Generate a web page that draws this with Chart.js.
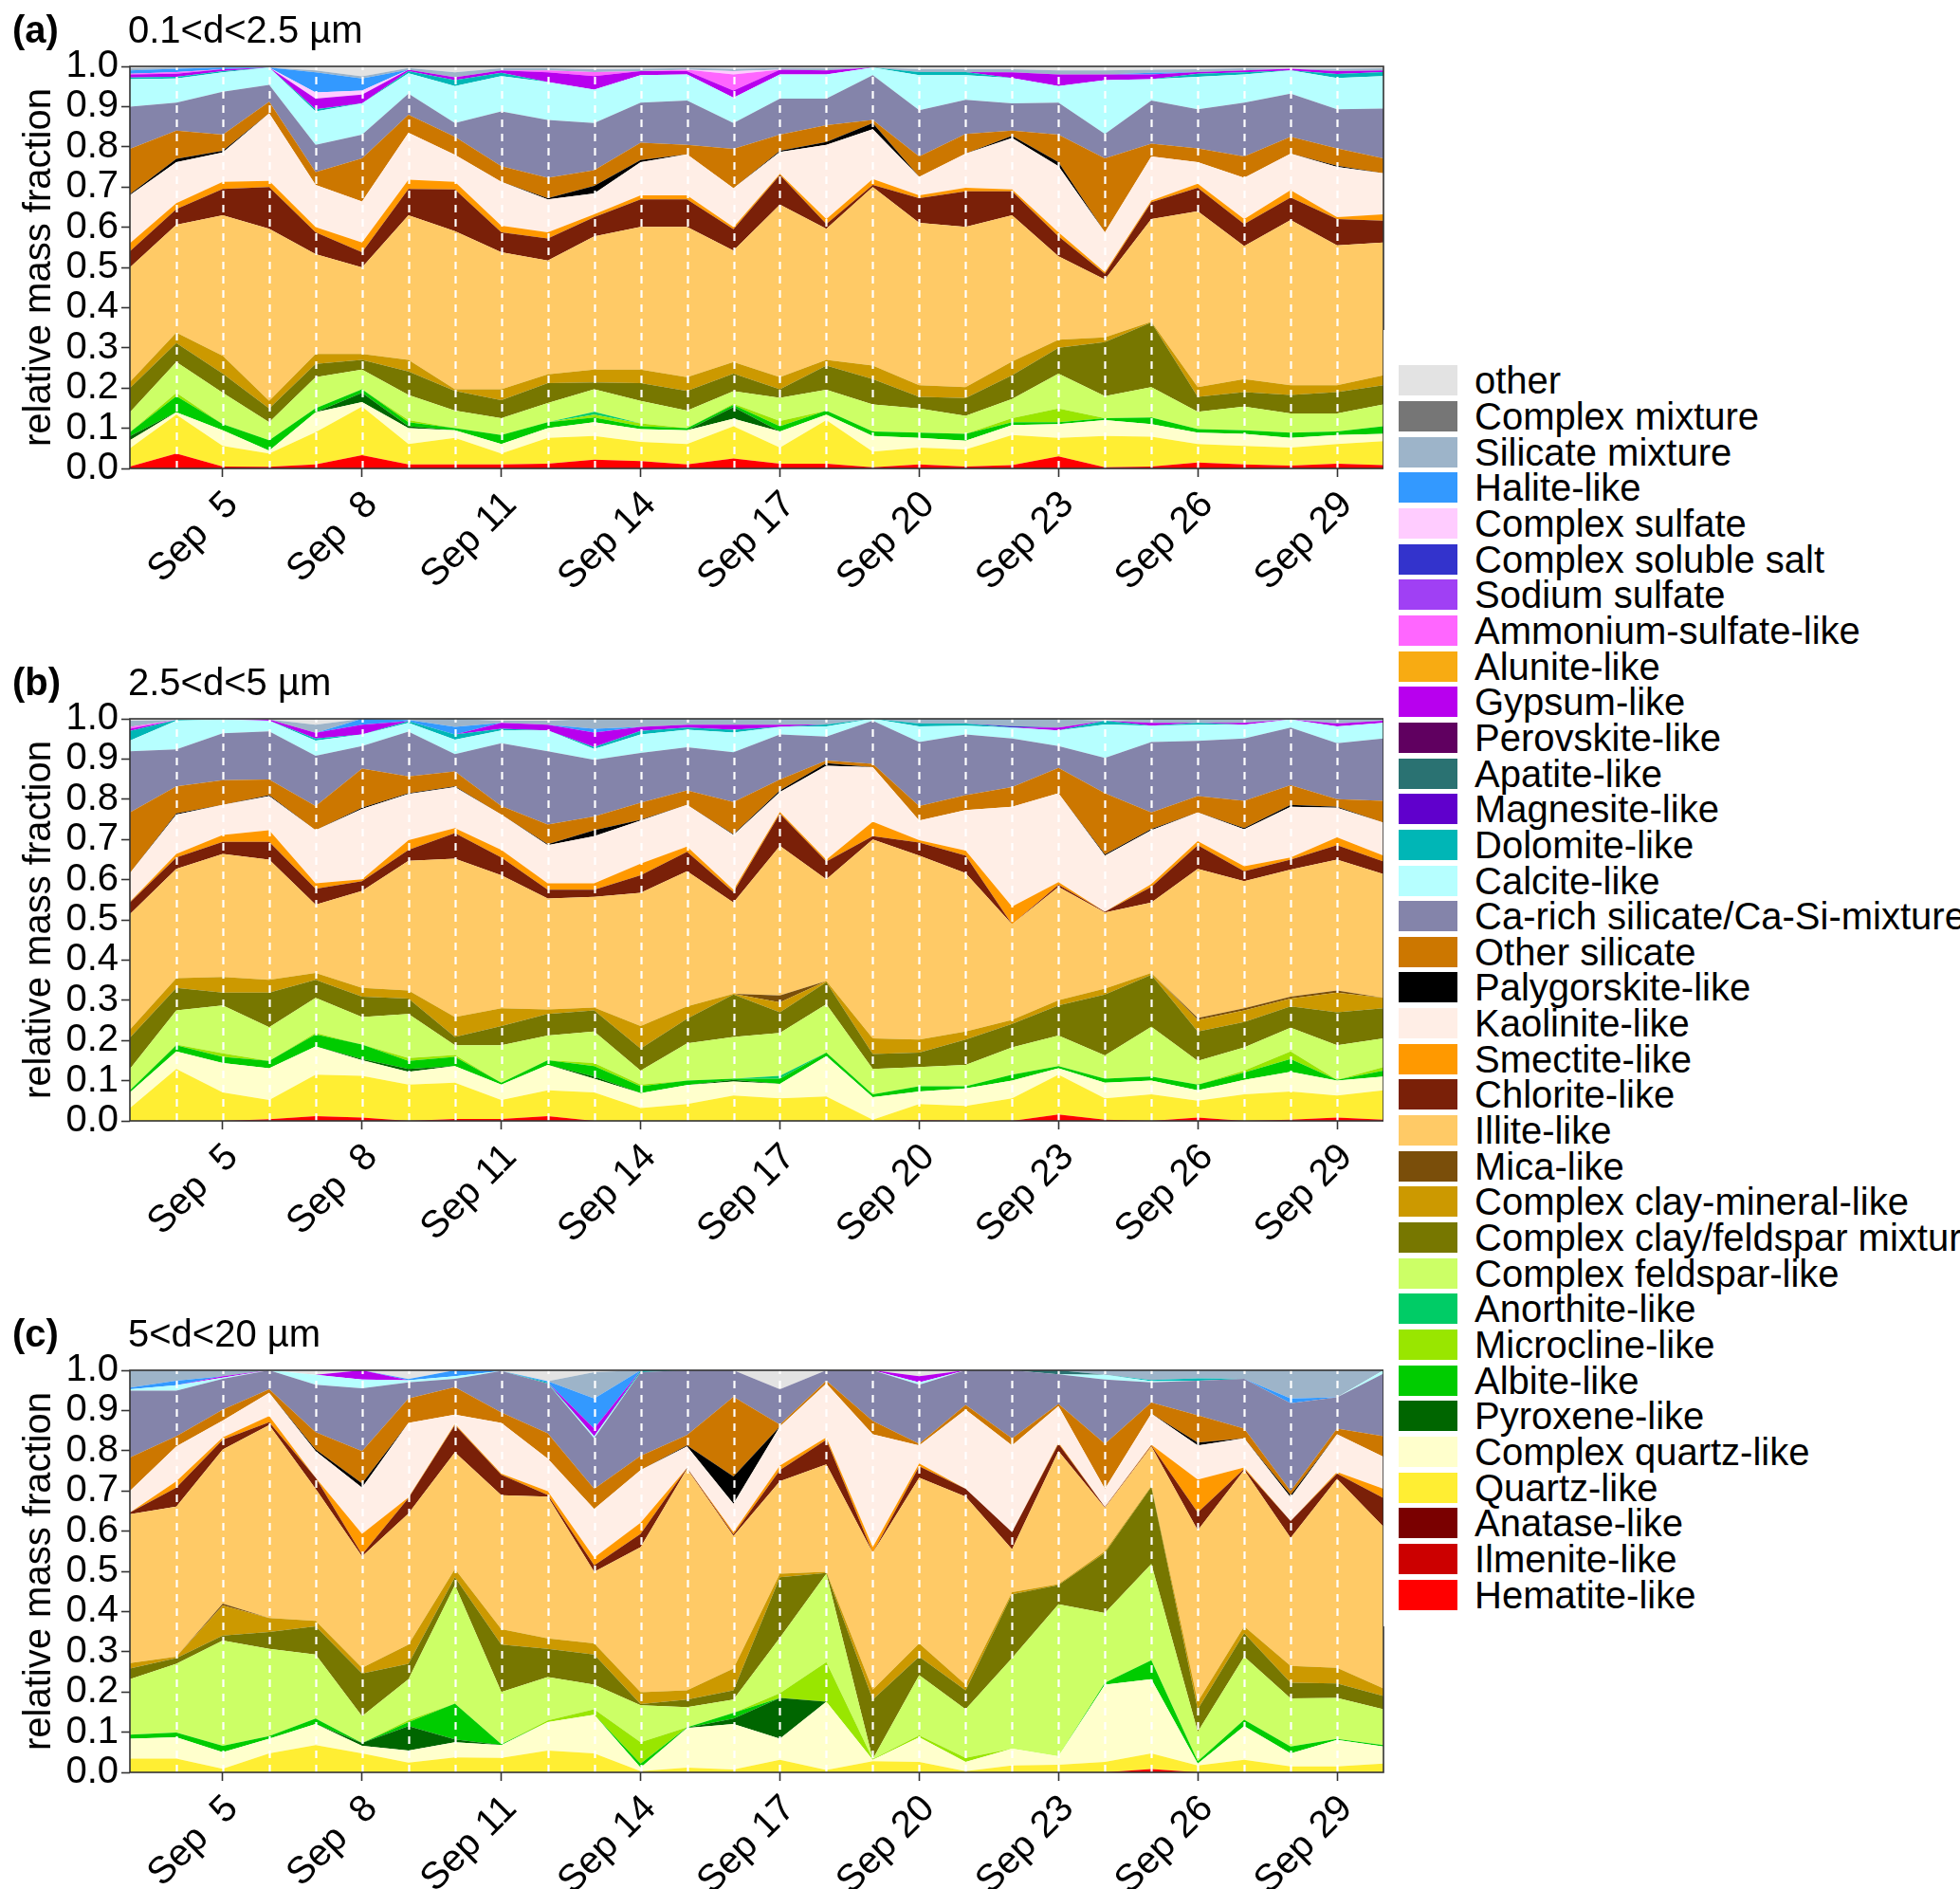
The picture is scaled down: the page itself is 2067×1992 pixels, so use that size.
<!DOCTYPE html>
<html>
<head>
<meta charset="utf-8">
<script src="https://cdn.jsdelivr.net/npm/chart.js@4.4.1/dist/chart.umd.min.js"></script>
<style>
  html, body { margin: 0; padding: 0; background: #fff; width: 2067px; height: 1992px; overflow: hidden; }
  body { position: relative; font-family: 'Liberation Sans', Arial, sans-serif; color: #000; }
  canvas { position: absolute; left: 0; }
  .tag { position: absolute; font-size: 40px; line-height: 40px; white-space: nowrap; }
  .tag b { font-weight: bold; }
  #legend { position: absolute; left: 1459px; top: 348px; width: 608px; height: 1367px; background: #fff; overflow: hidden; }
  .row { position: absolute; left: 0; height: 38px; width: 608px; }
  .key { position: absolute; left: 16px; top: 3px; width: 62px; height: 32px; }
  .lab { position: absolute; left: 96px; top: 0; font-size: 40px; line-height: 38px; white-space: nowrap; }
</style>
</head>
<body>
<canvas id="chartA" width="1467" height="594" style="top:40px"></canvas>
<canvas id="chartB" width="1467" height="594" style="top:728px"></canvas>
<canvas id="chartC" width="1467" height="594" style="top:1415px"></canvas>
<div class="tag" style="left:13px;top:11px"><b>(a)</b></div>
<div class="tag" style="left:135px;top:11px">0.1&lt;d&lt;2.5 µm</div>
<div class="tag" style="left:13px;top:699px"><b>(b)</b></div>
<div class="tag" style="left:135px;top:699px">2.5&lt;d&lt;5 µm</div>
<div class="tag" style="left:13px;top:1386px"><b>(c)</b></div>
<div class="tag" style="left:135px;top:1386px">5&lt;d&lt;20 µm</div>
<div id="legend"></div>
<script>
// days of September, one sample per day
const days = [3,4,5,6,7,8,9,10,11,12,13,14,15,16,17,18,19,20,21,22,23,24,25,26,27,28,29,30];
const tickDays = [5,8,11,14,17,20,23,26,29];
const tickLabels = ['Sep  5','Sep  8','Sep 11','Sep 14','Sep 17','Sep 20','Sep 23','Sep 26','Sep 29'];

// legend order (top to bottom)
const names = ['other','Complex mixture','Silicate mixture','Halite-like','Complex sulfate','Complex soluble salt',
  'Sodium sulfate','Ammonium-sulfate-like','Alunite-like','Gypsum-like','Perovskite-like','Apatite-like',
  'Magnesite-like','Dolomite-like','Calcite-like','Ca-rich silicate/Ca-Si-mixture','Other silicate',
  'Palygorskite-like','Kaolinite-like','Smectite-like','Chlorite-like','Illite-like','Mica-like',
  'Complex clay-mineral-like','Complex clay/feldspar mixture','Complex feldspar-like','Anorthite-like',
  'Microcline-like','Albite-like','Pyroxene-like','Complex quartz-like','Quartz-like','Anatase-like',
  'Ilmenite-like','Hematite-like'];
const colors = ['#e3e3e3','#767676','#9db4c9','#3399ff','#ffccff','#3333cc',
  '#a040f4','#ff66ff','#f8ab12','#b800ee','#600060','#2a7272',
  '#6000cc','#00b6b6','#b6ffff','#8484aa','#cc7700',
  '#000000','#ffeee6','#ff9900','#7a2008','#ffca66','#7a4e0a',
  '#cc9900','#777700','#ccff66','#00cc66',
  '#99e600','#00cc00','#006600','#ffffcc','#ffee33','#7a0000',
  '#cc0000','#ff0000'];

// ---- panel (a) 0.1<d<2.5 um ----
const hemA = [.005,.037,.005,.004,.01,.033,.01,.01,.01,.012,.022,.018,.01,.025,.012,.012,.003,.01,.005,.008,.03,.003,.005,.015,.01,.007,.012,.008];
const qtzA = [.045,.097,.051,.033,.08,.121,.051,.066,.027,.064,.059,.048,.051,.08,.04,.108,.039,.042,.042,.075,.046,.078,.074,.046,.046,.045,.049,.06];
const cqzA = [.02,.006,.039,.007,.05,.011,.039,.019,.024,.024,.034,.032,.034,.019,.04,.014,.039,.024,.022,.025,.034,.039,.031,.028,.03,.024,.022,.018];
const pyrA = [.01,0,0,0,0,.023,.005,0,0,0,0,0,0,.029,0,0,0,0,0,0,0,0,0,0,0,0,0,0];
const albA = [.01,.04,.015,.026,.01,.009,.01,.005,.022,.015,.012,.007,.005,.005,.013,.01,.011,.013,.017,.007,.005,.005,.017,.009,.009,.013,.009,.019];
const micA = [0,.008,0,0,0,0,.005,0,0,0,.007,.007,0,.003,.013,0,0,0,0,.01,.034,0,0,0,0,0,0,0];
const anoA = [0,0,0,0,0,0,0,0,0,0,.007,0,0,0,0,0,0,0,0,0,0,0,0,0,0,0,0,0];
const cfA  = [.05,.077,.078,.045,.077,.049,.063,.044,.042,.048,.056,.056,.044,.031,.058,.052,.067,.06,.045,.048,.087,.055,.075,.043,.059,.048,.045,.054];
const olA  = [.06,.047,.048,.034,.033,.024,.058,.049,.045,.049,.017,.044,.049,.044,.021,.06,.063,.029,.044,.059,.064,.134,.161,.037,.036,.046,.053,.048];
const goA  = [.015,.026,.044,.019,.025,.015,.029,.004,.027,.022,.032,.034,.034,.029,.03,.014,.034,.029,.027,.034,.02,.012,.002,.024,.032,.024,.017,.025];
const ilA  = [.285,.268,.35,.428,.248,.215,.36,.393,.341,.283,.331,.355,.374,.277,.429,.326,.444,.404,.399,.364,.208,.144,.255,.438,.331,.411,.348,.33];
const chA  = [.04,.039,.065,.104,.054,.038,.065,.104,.049,.055,.048,.068,.068,.053,.074,.012,.005,.061,.088,.059,.049,.014,.042,.058,.055,.056,.065,.054];
const smA  = [.02,.015,.018,.015,.013,.024,.023,.019,.017,.015,.007,.01,.01,.005,.003,.012,.015,.007,.009,.005,.01,.004,.004,.01,.012,.018,.005,.016];
const kaA  = [.12,.102,.073,.168,.105,.102,.117,.067,.109,.082,.052,.083,.102,.097,.054,.185,.124,.046,.085,.128,.165,.099,.11,.054,.103,.091,.125,.102];
const paA  = [.002,.008,.004,0,0,0,0,0,0,.003,.019,.005,0,0,.003,.007,.015,0,0,.005,.01,0,0,0,0,0,.003,0];
const osA  = [.113,.07,.04,.029,.032,.107,.045,.045,.039,.051,.039,.043,.024,.098,.04,.042,.008,.051,.049,.013,.068,.184,.032,.034,.053,.042,.043,.037];
const caA  = [.105,.07,.107,.042,.068,.059,.052,.034,.136,.144,.117,.10,.11,.064,.09,.066,.111,.115,.085,.068,.08,.061,.107,.097,.134,.107,.097,.124];
const ccA  = [.068,.06,.048,.043,.083,.078,.051,.092,.088,.094,.083,.068,.065,.063,.06,.06,.019,.087,.061,.063,.041,.134,.053,.081,.07,.058,.078,.081];
const dolA = [.004,.004,.003,0,.005,0,.005,.015,.008,0,0,0,0,0,0,0,0,.008,.008,0,0,0,0,.008,.005,0,.01,.01];
const gypA = [.008,.008,.005,0,.027,.022,.004,.007,.006,.024,.034,.01,.008,.018,.012,.01,0,0,0,.014,.029,.014,.012,.004,.005,.004,.007,.004];
const ammA = [.002,.004,0,0,0,0,0,0,0,.005,.01,0,.004,.04,0,0,0,0,0,0,0,0,0,0,0,0,0,0];
const csuA = [0,0,0,0,.015,.01,0,0,0,0,0,0,0,.008,0,0,0,0,0,0,0,0,0,0,0,0,0,0];
const halA = [.008,.008,.004,0,.05,.03,0,0,0,0,0,0,0,0,0,0,0,0,0,0,0,0,.004,0,0,0,0,0];
const smxA = [.005,.003,0,0,.005,.005,.004,.012,.005,.005,.007,.006,.004,.006,.004,.005,0,.007,.007,.008,.01,.01,.008,.007,.005,0,.006,.005];
const othA = [.005,.003,.003,.003,.01,.025,.004,.015,.005,.005,.007,.006,.004,.006,.004,.005,.003,.007,.007,.007,.01,.01,.008,.007,.005,.006,.006,.005];

// ---- panel (b) 2.5<d<5 um ----
const hemB = [0,0,0,.004,.012,.008,0,.005,.005,.012,0,0,0,0,0,0,0,.002,0,0,.016,.003,0,.008,0,.003,.008,.003];
const qtzB = [.032,.129,.071,.048,.103,.104,.09,.09,.047,.064,.071,.032,.042,.063,.056,.061,.003,.04,.037,.056,.099,.053,.066,.042,.066,.07,.055,.073];
const cqzB = [.039,.044,.073,.079,.07,.039,.032,.041,.038,.063,.034,.037,.047,.035,.036,.10,.056,.031,.044,.044,.016,.039,.034,.026,.036,.049,.037,.034];
const pyrB = [0,0,0,0,0,.003,.007,0,0,0,.005,0,0,.004,0,0,0,0,0,0,0,0,0,0,0,0,0,0];
const albB = [.005,.015,.015,.018,.03,.036,.02,.023,.005,.012,.026,.017,.011,.003,.013,.009,.007,.013,.005,.015,.005,.01,.01,.014,.018,.032,.002,.015];
const micB = [0,.002,.009,0,.004,0,.007,.005,0,0,.008,.004,0,0,0,0,0,0,0,0,0,0,0,0,.005,.019,0,.009];
const anoB = [0,0,0,0,0,0,0,0,0,0,0,0,0,0,.007,0,0,0,0,0,0,0,0,0,0,0,0,0];
const cfB  = [.053,.085,.119,.084,.087,.068,.11,.024,.093,.061,.078,.035,.093,.104,.107,.12,.063,.048,.053,.068,.076,.058,.124,.059,.058,.059,.086,.071];
const olB  = [.078,.056,.032,.086,.045,.051,.038,.021,.048,.054,.053,.055,.061,.105,.051,.055,.037,.036,.063,.058,.075,.151,.129,.073,.063,.053,.082,.075];
const goB  = [.02,.024,.039,.032,.017,.022,.02,.049,.044,.011,.007,.056,.031,.002,.025,.003,.039,.032,.02,.01,.013,.015,.005,.029,.029,.019,.049,.026];
const micaB = [0,0,0,0,0,0,0,0,0,0,0,0,0,0,.017,0,0,0,0,0,0,0,0,.005,.005,.005,.005,0];
const ilB  = [.287,.272,.306,.299,.17,.241,.323,.394,.331,.276,.275,.331,.336,.227,.372,.253,.495,.458,.394,.238,.282,.189,.175,.371,.316,.316,.326,.308];
const chB  = [.029,.028,.03,.044,.039,.024,.027,.064,.044,.022,.018,.044,.048,.026,.08,.044,.008,.032,.044,0,.005,.002,.039,.059,.025,.025,.036,.031];
const smB  = [.002,.009,.017,.029,.014,.005,.024,.012,.019,.016,.016,.029,.013,.006,.004,.005,.036,.006,.012,.044,.007,0,.007,.01,.012,.005,.019,.015];
const kaB  = [.071,.098,.075,.085,.132,.175,.115,.102,.088,.095,.117,.107,.104,.136,.05,.233,.136,.049,.101,.248,.221,.14,.134,.071,.092,.126,.074,.082];
const paB  = [0,.003,0,.002,0,.003,.002,.002,0,.002,.015,.002,0,.002,.004,.007,0,0,0,0,0,.003,.003,0,.003,.005,.002,0];
const osB  = [.151,.067,.061,.039,.06,.097,.042,.037,.021,.049,.034,.042,.036,.08,.027,.006,.008,.036,.037,.049,.063,.152,.041,.041,.068,.049,.019,.054];
const caB  = [.152,.092,.117,.12,.125,.056,.111,.043,.156,.182,.141,.124,.107,.124,.112,.06,.107,.159,.151,.121,.054,.088,.175,.137,.155,.143,.139,.155];
const ccB  = [.027,.071,.034,.026,.038,.029,.022,.036,.032,.052,.027,.046,.044,.049,.019,.025,.005,.039,.022,.027,.039,.083,.041,.04,.034,.02,.042,.039];
const dolB = [.024,.002,0,0,.005,0,.004,.013,.004,0,.005,.009,.005,.007,0,.005,0,.007,.005,0,0,.009,0,.005,0,0,0,0];
const gypB = [.005,0,0,.003,.014,.024,0,0,.015,.014,.036,.01,.007,.012,.005,0,0,0,0,0,.007,0,.007,0,.005,0,.007,.005];
const ammB = [.005,0,0,0,0,0,0,0,0,0,0,0,0,0,0,0,0,0,0,0,0,0,0,0,0,0,0,0];
const csaB = [0,0,0,0,0,0,0,0,0,0,0,0,0,0,0,0,0,0,0,.004,0,0,0,0,0,0,0,0];
const halB = [0,0,0,0,0,.015,.003,.019,0,0,.009,0,0,0,0,0,0,0,0,0,0,0,0,0,0,0,0,0];
const smxB = [.015,0,0,0,.02,0,0,.02,.005,.01,.025,.02,.015,.015,.015,.014,0,.012,.012,.018,.022,0,.01,.01,.01,0,.012,.005];
const othB = [.005,.003,.002,.002,.015,0,.003,0,.005,.005,0,0,0,0,0,0,0,0,0,0,0,.005,0,0,0,.002,0,0];

// ---- panel (c) 5<d<20 um ----
const hemC = [0,0,0,0,0,0,0,0,0,0,0,0,0,0,0,0,0,0,0,0,0,0,.008,0,0,0,0,0];
const qtzC = [.034,.034,.009,.047,.068,.047,.024,.037,.036,.054,.047,.003,.012,.007,.031,.006,.028,.026,.003,.017,.019,.026,.039,.017,.031,.015,.015,.022];
const cqzC = [.05,.053,.041,.037,.052,.019,.03,.038,.032,.071,.096,.009,.098,.113,.053,.17,.003,.061,.023,.042,.021,.192,.185,.005,.084,.032,.066,.042];
const pyrC = [0,0,0,0,0,.007,.061,.007,0,0,0,0,.001,.014,.101,0,0,0,0,0,0,0,0,0,0,0,0,0];
const albC = [.01,.012,.016,.006,.014,0,.01,.089,.002,0,0,.01,.001,.014,0,0,0,0,0,0,0,.005,.047,.006,.016,.017,.002,.004];
const micC = [0,0,0,0,0,0,.005,0,0,.004,.014,.053,0,0,.012,.098,.002,.005,.01,0,0,0,0,0,0,0,0,0];
const cfC  = [.138,.171,.262,.217,.159,.067,.102,.295,.13,.108,.061,.092,.05,.033,.138,.22,0,.15,.121,.225,.378,.173,.239,.073,.157,.12,.102,.089];
const olC  = [.026,.014,.012,.042,.07,.106,.038,.019,.118,.07,.075,.003,.019,.023,.15,.002,.148,.046,.047,.159,.048,.15,.192,.056,.058,.039,.036,.033];
const goC  = [.014,.004,.075,.035,.014,.014,.048,.021,.038,.026,.028,.029,.023,.054,.009,.003,.025,.033,.014,.005,.002,.004,.002,.019,.017,.042,.039,.019];
const micaC = [0,0,.005,0,0,0,0,0,0,0,0,0,0,0,0,0,0,0,0,0,0,0,0,0,0,0,0,0];
const ilC  = [.37,.373,.383,.48,.328,.277,.326,.29,.333,.353,.178,.361,.551,.33,.23,.267,.34,.412,.468,.107,.331,.108,.099,.426,.389,.318,.47,.402];
const chC  = [.004,.047,.024,.007,.028,.005,.038,.068,.051,.004,.016,.033,.002,.004,.028,.061,0,.028,.019,.042,.018,.002,.002,.044,.003,.042,.013,.071];
const smC  = [0,.016,.006,.015,0,.051,.002,.003,.003,.009,.019,.028,0,.005,.011,.006,.014,.007,0,0,.003,0,.002,.082,.003,0,.004,.023];
const kaC  = [.054,.087,.042,.058,.066,.115,.185,.023,.126,.081,.121,.131,.054,.071,.097,.134,.281,.045,.197,.216,.091,.045,.077,.085,.073,.059,.094,.08];
const paC  = [0,0,0,0,.004,.011,0,0,0,0,0,0,.002,.068,0,0,0,0,0,0,0,0,0,.007,0,.006,0,0];
const osC  = [.083,.025,.027,.009,.043,.08,.061,.068,.026,.063,.05,.035,.026,.198,.005,.007,.033,.004,.012,.018,.005,.112,.028,.068,.024,.01,.014,.051];
const caC  = [.166,.113,.077,.047,.118,.156,.04,.021,.103,.124,.126,.208,.161,.066,.088,.026,.126,.147,.086,.169,.074,.16,.05,.086,.124,.218,.078,.156];
const ccC  = [.004,.014,.003,0,.025,.022,.005,.006,0,0,.005,0,0,0,0,0,0,.006,0,0,0,.012,.003,0,0,0,0,.008];
const dolC = [0,0,0,0,0,0,0,0,0,.003,0,.005,0,0,0,0,0,0,0,0,0,0,.003,.006,0,0,0,0];
const apaC = [0,0,0,0,0,0,0,0,0,0,0,0,0,0,0,0,0,0,0,0,.01,0,0,0,0,0,0,0];
const gypC = [0,0,.003,0,0,.023,0,0,0,0,.019,0,0,0,0,0,0,.015,0,0,0,0,0,0,0,0,0,0];
const halC = [.004,.011,0,0,0,0,.003,.015,0,.003,.075,0,0,0,0,0,0,0,0,0,0,0,0,0,0,.012,0,0];
const smxC = [.043,.026,.015,0,0,0,0,0,0,0,.065,0,0,0,0,0,0,0,0,0,0,.011,.024,.02,.021,.07,.067,0];
const othC = [0,0,0,0,.011,0,.022,0,.002,.027,.005,0,0,0,.047,0,0,.015,0,0,0,0,0,0,0,0,0,0];

// stacking order, bottom first
const panelA = [
  ['Hematite-like', hemA], ['Quartz-like', qtzA], ['Complex quartz-like', cqzA], ['Pyroxene-like', pyrA],
  ['Albite-like', albA], ['Microcline-like', micA], ['Anorthite-like', anoA], ['Complex feldspar-like', cfA],
  ['Complex clay/feldspar mixture', olA], ['Complex clay-mineral-like', goA], ['Illite-like', ilA],
  ['Chlorite-like', chA], ['Smectite-like', smA], ['Kaolinite-like', kaA], ['Palygorskite-like', paA],
  ['Other silicate', osA], ['Ca-rich silicate/Ca-Si-mixture', caA], ['Calcite-like', ccA],
  ['Dolomite-like', dolA], ['Gypsum-like', gypA], ['Ammonium-sulfate-like', ammA],
  ['Complex sulfate', csuA], ['Halite-like', halA], ['Silicate mixture', smxA], ['other', othA]
];
const panelB = [
  ['Hematite-like', hemB], ['Quartz-like', qtzB], ['Complex quartz-like', cqzB], ['Pyroxene-like', pyrB],
  ['Albite-like', albB], ['Microcline-like', micB], ['Anorthite-like', anoB], ['Complex feldspar-like', cfB],
  ['Complex clay/feldspar mixture', olB], ['Complex clay-mineral-like', goB], ['Mica-like', micaB],
  ['Illite-like', ilB], ['Chlorite-like', chB], ['Smectite-like', smB], ['Kaolinite-like', kaB],
  ['Palygorskite-like', paB], ['Other silicate', osB], ['Ca-rich silicate/Ca-Si-mixture', caB],
  ['Calcite-like', ccB], ['Dolomite-like', dolB], ['Gypsum-like', gypB], ['Ammonium-sulfate-like', ammB],
  ['Complex soluble salt', csaB], ['Halite-like', halB], ['Silicate mixture', smxB], ['other', othB]
];
const panelC = [
  ['Hematite-like', hemC], ['Quartz-like', qtzC], ['Complex quartz-like', cqzC], ['Pyroxene-like', pyrC],
  ['Albite-like', albC], ['Microcline-like', micC], ['Complex feldspar-like', cfC],
  ['Complex clay/feldspar mixture', olC], ['Complex clay-mineral-like', goC], ['Mica-like', micaC],
  ['Illite-like', ilC], ['Chlorite-like', chC], ['Smectite-like', smC], ['Kaolinite-like', kaC],
  ['Palygorskite-like', paC], ['Other silicate', osC], ['Ca-rich silicate/Ca-Si-mixture', caC],
  ['Calcite-like', ccC], ['Dolomite-like', dolC], ['Apatite-like', apaC], ['Gypsum-like', gypC],
  ['Halite-like', halC], ['Silicate mixture', smxC], ['other', othC]
];

const FONT = "'Liberation Sans', Arial, sans-serif";
const colorOf = name => colors[names.indexOf(name)];

// white dashed day lines + panel frame, drawn over the areas
const framePlugin = {
  id: 'frame',
  afterDatasetsDraw(chart) {
    const { ctx, chartArea: a, scales: { x } } = chart;
    ctx.save();
    ctx.strokeStyle = '#ffffff';
    ctx.lineWidth = 2.2;
    ctx.setLineDash([8, 7]);
    days.slice(1, -1).forEach(d => {
      const px = Math.round(x.getPixelForValue(d)) + 0.5;
      ctx.beginPath();
      ctx.moveTo(px, a.bottom);
      ctx.lineTo(px, a.top);
      ctx.stroke();
    });
    ctx.setLineDash([]);
    ctx.strokeStyle = '#333333';
    ctx.lineWidth = 1.6;
    ctx.strokeRect(a.left, a.top, a.right - a.left, a.bottom - a.top);
    ctx.restore();
  }
};

function makeChart(id, series) {
  return new Chart(document.getElementById(id), {
    type: 'line',
    data: {
      datasets: series.map(([name, vals], i) => ({
        label: name,
        data: vals.map((v, j) => ({ x: days[j], y: v })),
        backgroundColor: colorOf(name),
        borderColor: colorOf(name),
        borderWidth: 0,
        pointRadius: 0,
        tension: 0,
        fill: i === 0 ? 'origin' : '-1'
      }))
    },
    options: {
      responsive: false,
      animation: false,
      devicePixelRatio: 1,
      events: [],
      layout: { padding: { top: 30, right: 8, bottom: 0, left: 0 } },
      plugins: { legend: { display: false }, tooltip: { enabled: false } },
      scales: {
        x: {
          type: 'linear', min: 3, max: 30,
          border: { display: false },
          grid: {
            drawOnChartArea: false, tickLength: 9, tickWidth: 1.6,
            tickColor: c => tickDays.includes(c.tick && c.tick.value) ? '#333333' : 'rgba(0,0,0,0)'
          },
          ticks: {
            stepSize: 1, autoSkip: false, maxRotation: 45, minRotation: 45,
            padding: 6, labelOffset: 10,
            color: '#000', font: { size: 40, family: FONT },
            callback: v => { const k = tickDays.indexOf(v); return k < 0 ? '' : tickLabels[k]; }
          },
          afterFit: s => { s.height = 140; s.paddingLeft = 0; s.paddingRight = 0; }
        },
        y: {
          stacked: true, min: 0, max: 1,
          border: { display: false },
          grid: { drawOnChartArea: false, tickLength: 9, tickWidth: 1.6, tickColor: '#333333' },
          ticks: {
            stepSize: 0.1, autoSkip: false, padding: 3, color: '#000', font: { size: 40, family: FONT },
            callback: v => v.toFixed(1)
          },
          title: {
            display: true, text: 'relative mass fraction', color: '#000',
            font: { size: 40, family: FONT }, padding: { top: 18, bottom: 0 }
          },
          afterFit: s => { s.width = 137; }
        }
      }
    },
    plugins: [framePlugin]
  });
}

makeChart('chartA', panelA);
makeChart('chartB', panelB);
makeChart('chartC', panelC);

// legend, built from names / colors
const legend = document.getElementById('legend');
names.forEach((name, i) => {
  const row = document.createElement('div');
  row.className = 'row';
  row.style.top = (34.4 + i * 37.65) + 'px';
  row.innerHTML = `<span class="key" style="background:${colors[i]}"></span><span class="lab">${name}</span>`;
  legend.appendChild(row);
});
</script>
</body>
</html>
